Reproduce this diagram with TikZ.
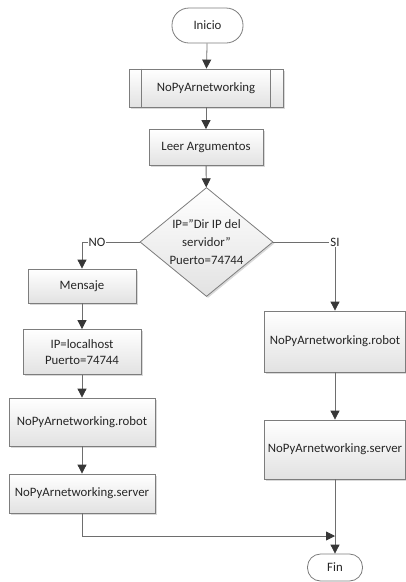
\documentclass[tikz,border=0pt]{standalone}
\usepackage{fontspec}
\setmainfont{Carlito}
\usetikzlibrary{arrows.meta, shapes.geometric, shadows}

\definecolor{borde}{RGB}{125,125,125}
\definecolor{linea}{RGB}{110,110,110}
\definecolor{punta}{RGB}{55,55,55}
\definecolor{fondo}{RGB}{226,226,226}

\tikzset{
    caja/.style={draw=borde, line width=0.8pt, top color=white, bottom color=fondo,
        drop shadow={shadow xshift=1.5pt, shadow yshift=-1.5pt, opacity=0.3},
        align=center, inner sep=2pt, text=black!85},
    terminal/.style={draw=borde, line width=0.8pt, fill=white, rounded corners=#1,
        text=black!85, inner sep=0pt},
    flecha/.style={draw=linea, line width=0.8pt, -{Triangle[length=9pt,width=9pt,color=punta]}},
    etiq/.style={fill=white, inner sep=1pt, text=black!85}
}

\begin{document}
\begin{tikzpicture}[x=1pt, y=-1pt, font=\fontsize{12.8}{16}\selectfont]
    \useasboundingbox (0,0) rectangle (406,582);

    % columna central
    \node[terminal=17pt, minimum width=71pt, minimum height=35pt] (inicio) at (207.5,25.5) {Inicio};
    \node[caja, minimum width=154pt, minimum height=38pt] (sub) at (206,88) {NoPyArnetworking};
    \draw[borde, line width=0.8pt] ([xshift=13pt]sub.north west) -- ([xshift=13pt]sub.south west);
    \draw[borde, line width=0.8pt] ([xshift=-13pt]sub.north east) -- ([xshift=-13pt]sub.south east);
    \node[caja, minimum width=114pt, minimum height=36pt] (leer) at (206,147.5) {Leer Argumentos};
    \node[caja, shape=diamond, aspect=1.22, inner sep=0pt, minimum width=133pt, minimum height=109pt]
        (dec) at (206.5,242) {IP="Dir IP del\\[2pt] servidor"\\[2pt] Puerto=74744};

    % rama NO
    \node[caja, minimum width=108pt, minimum height=34pt] (msg) at (82,286) {Mensaje};
    \node[caja, minimum width=118pt, minimum height=45pt] (ipl) at (82,352) {IP=localhost\\ Puerto=74744};
    \node[caja, minimum width=146pt, minimum height=48pt] (robL) at (82,422) {NoPyArnetworking.robot};
    \node[caja, minimum width=146pt, minimum height=39pt] (servL) at (82,493.5) {NoPyArnetworking.server};

    % rama SI
    \node[caja, minimum width=141pt, minimum height=61pt] (robR) at (335,341.5) {NoPyArnetworking.robot};
    \node[caja, minimum width=141pt, minimum height=59pt] (servR) at (335,449.5) {NoPyArnetworking.server};

    \node[terminal=13pt, minimum width=55pt, minimum height=27pt] (fin) at (335,567.5) {Fin};
    \coordinate (junta) at (335,536);

    \draw[flecha] (inicio) -- (sub);
    \draw[flecha] (sub) -- (leer);
    \draw[flecha] (leer) -- (dec);
    \draw[flecha] (dec.west) -| node[etiq, pos=0.37] {NO} (msg.north);
    \draw[flecha] (dec.east) -| node[etiq, pos=0.5] {SI} (robR.north);
    \draw[flecha] (msg) -- (ipl);
    \draw[flecha] (ipl) -- (robL);
    \draw[flecha] (robL) -- (servL);
    \draw[flecha] (robR) -- (servR);
    \draw[flecha] (servL.south) |- (junta);
    \draw[flecha] (servR.south) -- (fin.north);
\end{tikzpicture}
\end{document}
